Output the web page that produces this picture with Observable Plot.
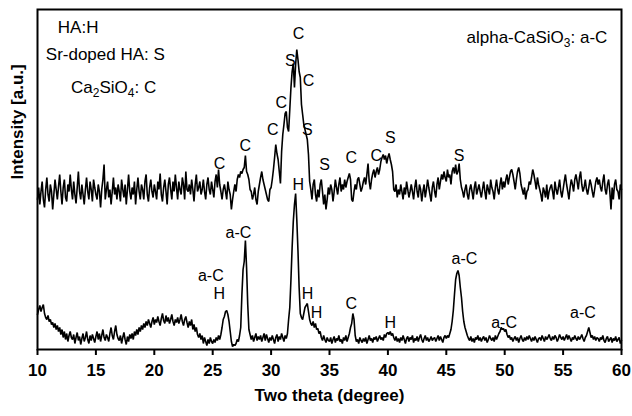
<!DOCTYPE html>
<html>
<head>
<meta charset="utf-8">
<script src="https://cdn.jsdelivr.net/npm/d3@7"></script>
<script src="https://cdn.jsdelivr.net/npm/@observablehq/plot@0.6"></script>
<style>
  html, body { margin: 0; padding: 0; background: #fff; }
  #chart svg { display: block; }
</style>
</head>
<body>
<div id="chart"></div>
<script>
// Scan grid: 10° to 60° two-theta, 0.1° step
const twoThetaStart = 10;
const twoThetaStep = 0.1;

// Upper pattern (Sr-doped HA + Ca2SiO4), intensity in a.u.
const intensityUpper = [
  150,162,145,158,168,150,142,160,172,155,
  148,165,158,140,155,170,160,150,163,175,
  158,145,162,170,152,148,165,158,175,160,
  150,168,155,146,162,178,158,150,165,155,
  145,160,172,158,150,168,160,148,170,162,
  155,150,165,158,142,160,170,185,150,160,
  168,152,160,145,158,172,155,162,150,165,
  158,148,170,160,152,165,145,160,175,158,
  150,162,155,168,145,160,172,158,150,165,
  160,150,168,175,155,148,162,170,158,152,
  165,158,150,168,160,176,155,148,162,170,
  158,145,165,172,160,150,168,158,175,162,
  150,168,160,155,172,165,150,178,160,158,
  165,155,170,160,148,165,175,158,162,168,
  155,160,170,158,150,165,172,160,155,168,
  160,152,168,175,162,180,165,158,150,160,
  165,158,150,168,160,155,140,150,158,165,
  158,170,175,172,178,176,180,182,194,178,
  175,170,160,158,150,155,162,150,145,158,
  165,172,178,170,165,160,155,150,148,160,
  162,170,180,192,205,196,190,178,166,198,
  215,225,236,238,222,218,240,262,278,286,
  262,285,300,290,278,272,245,235,225,220,
  215,210,195,168,160,150,165,170,155,148,
  160,152,165,170,158,145,155,140,150,162,
  155,165,160,148,158,170,162,155,165,172,
  158,165,160,170,162,168,172,176,170,150,
  148,158,165,160,170,172,165,158,162,168,
  172,165,175,186,168,160,170,176,180,172,
  178,182,175,180,188,192,195,190,194,186,
  192,196,190,185,178,160,158,165,152,160,
  155,165,158,150,162,155,168,160,152,158,
  165,158,150,162,170,158,152,165,160,148,
  158,165,152,160,170,162,155,148,162,168,
  158,152,165,172,160,168,175,170,178,172,
  168,180,172,175,165,178,182,176,185,175,
  178,186,170,162,158,152,160,165,155,150,
  160,165,158,150,162,168,155,160,165,158,
  152,160,168,158,150,165,160,155,170,162,
  158,150,162,170,160,155,165,172,160,168,
  162,170,175,165,172,178,180,175,168,160,
  170,178,182,176,165,160,155,162,150,158,
  160,168,165,172,180,175,168,160,172,165,
  160,155,148,162,158,152,165,150,158,162,
  165,158,150,168,160,155,162,170,158,152,
  160,168,175,165,158,150,162,170,165,158,
  170,175,168,160,172,178,165,158,162,170,
  160,155,162,170,165,158,152,160,168,172,
  165,170,162,158,168,175,160,155,165,170,
  158,140,162,150,165,170,160,158,150,165,
  160
];

// Lower pattern (HA + alpha-CaSiO3), intensity in a.u.
const intensityLower = [
  35,40,44,38,42,45,36,32,30,34,
  28,30,25,27,22,26,20,24,18,22,
  15,20,12,18,10,16,8,14,18,12,
  10,15,6,12,17,9,13,5,11,16,
  8,12,18,10,6,14,9,15,11,7,
  13,18,10,16,8,14,20,12,9,15,
  12,8,16,22,14,10,18,24,15,11,
  9,14,6,12,17,10,5,13,8,15,
  11,16,10,18,14,20,15,22,18,24,
  20,26,22,28,24,30,26,22,28,32,
  25,30,27,33,28,24,31,36,29,26,
  34,28,32,26,30,35,28,24,30,27,
  32,26,30,35,28,24,30,33,27,22,
  28,24,30,20,25,18,22,15,12,16,
  10,14,6,12,8,4,10,6,12,8,
  6,10,7,12,9,14,10,15,22,30,
  33,38,39,35,28,18,8,3,5,4,
  6,10,8,14,22,55,80,88,109,82,
  45,20,15,10,14,8,12,16,9,13,
  10,14,8,12,16,9,15,11,7,12,
  9,14,10,6,12,15,8,13,10,16,
  12,8,14,11,16,30,42,70,102,128,
  145,156,130,99,62,36,32,30,36,42,
  44,46,38,30,26,24,28,22,26,20,
  21,16,18,12,9,14,10,7,12,9,
  8,12,6,10,13,7,11,9,14,8,
  10,6,12,9,14,8,12,16,22,26,
  36,30,14,8,10,6,12,9,7,11,
  8,12,6,10,14,9,11,7,12,10,
  13,8,11,14,10,12,9,15,12,16,
  17,15,18,14,16,12,9,13,8,11,
  7,12,9,14,10,6,11,13,8,12,
  10,14,7,11,9,13,8,12,15,10,
  7,11,14,9,12,8,10,13,9,11,
  12,8,11,14,9,13,10,7,12,14,
  11,14,12,16,20,28,39,55,70,76,
  79,74,62,52,38,28,22,18,14,11,
  9,13,8,11,7,12,10,14,9,12,
  8,11,13,9,12,7,10,14,11,9,
  12,8,14,10,13,16,18,22,20,21,
  18,20,15,12,14,10,12,8,11,13,
  9,12,7,11,14,10,8,12,9,13,
  10,14,11,8,12,9,13,10,7,11,
  12,9,14,11,8,13,10,12,15,11,
  9,13,10,14,12,8,11,15,12,10,
  13,9,12,15,10,14,11,8,12,10,
  14,11,9,13,10,12,15,11,8,12,
  14,18,22,17,12,14,10,13,9,12,
  11,8,12,10,14,9,7,11,13,8,
  10,12,7,11,9,13,8,10,12,6,
  9
];

// Phase assignments above the peaks
const peakLabelText      = ["C", "C", "C", "C", "S", "C", "C", "S", "S", "C", "C", "S", "S",
                            "a-C", "H", "a-C", "H", "H", "H", "C", "H", "a-C", "a-C", "a-C"];
const peakLabelTheta     = [25.58, 27.78, 30.15, 30.87, 31.64, 32.35, 33.2, 33.1, 34.58, 36.86, 39.0, 40.2, 46.1,
                            24.84, 25.56, 27.2, 32.32, 33.12, 33.9, 36.86, 40.2, 46.55, 49.95, 56.7];
const peakLabelIntensity = [186, 204, 220, 247, 289, 316, 269, 220, 185, 192, 194, 212, 194,
                            74, 56, 117, 165, 56, 37, 46, 27, 91, 27, 37];

// Phase key
const phaseKeyText      = ["HA:H", "Sr-doped HA: S", "Ca2SiO4: C", "alpha-CaSiO3: a-C"];
const phaseKeyTheta     = [11.74, 10.71, 12.87, 58.79];
const phaseKeyIntensity = [322, 295, 262, 312];
const phaseKeyAnchor    = ["start", "start", "start", "end"];

const twoThetaTicks = [10, 15, 20, 25, 30, 35, 40, 45, 50, 55, 60];
const xTitle = "Two theta (degree)";
const yTitle = "Intensity [a.u.]";

const toRows = (values) => values.map((v, i) => ({
  theta: Math.round((twoThetaStart + i * twoThetaStep) * 10) / 10,
  intensity: v
}));
const upperRows = toRows(intensityUpper);
const lowerRows = toRows(intensityLower);
const peakLabels = peakLabelText.map((t, i) => ({t, x: peakLabelTheta[i], y: peakLabelIntensity[i]}));
const phaseKeys = phaseKeyText.map((t, i) => ({t, x: phaseKeyTheta[i], y: phaseKeyIntensity[i], a: phaseKeyAnchor[i]}));

const font = "'Liberation Sans', Arial, Helvetica, sans-serif";

const chart = Plot.plot({
  width: 632,
  height: 416,
  marginLeft: 37,
  marginRight: 11,
  marginTop: 9,
  marginBottom: 67,
  style: {fontFamily: font, background: "#fff", color: "#000", overflow: "visible"},
  x: {domain: [10, 60]},
  y: {domain: [0, 340], axis: null},
  marks: [
    Plot.line(upperRows, {x: "theta", y: "intensity", stroke: "#000", strokeWidth: 1.6, strokeLinejoin: "miter"}),
    Plot.line(lowerRows, {x: "theta", y: "intensity", stroke: "#000", strokeWidth: 1.6, strokeLinejoin: "miter"}),
    Plot.frame({stroke: "#000", strokeWidth: 2}),
    Plot.axisX({
      ticks: twoThetaTicks, tickSize: 6, tickPadding: 8, strokeWidth: 2,
      fontSize: 17, fontWeight: "bold", label: null, tickFormat: d => String(d)
    }),
    Plot.text([xTitle], {frameAnchor: "bottom", dy: 51, fontSize: 17, fontWeight: "bold"}),
    Plot.text([yTitle], {frameAnchor: "left", rotate: -90, dx: -20, fontSize: 17, fontWeight: "bold"}),
    Plot.text(peakLabels, {x: "x", y: "y", text: "t", fontSize: 16}),
    Plot.text(phaseKeys.filter(d => d.a === "start"), {x: "x", y: "y", text: "t", textAnchor: "start", fontSize: 17}),
    Plot.text(phaseKeys.filter(d => d.a === "end"), {x: "x", y: "y", text: "t", textAnchor: "end", fontSize: 17})
  ]
});

// Chemical formulas: set the stoichiometric digits as subscripts
d3.select(chart).selectAll("text").each(function () {
  const s = this.textContent;
  if (!/[A-Za-z]\d/.test(s)) return;
  const el = d3.select(this);
  el.text(null);
  let lowered = false;
  for (const p of s.split(/(\d+)/).filter(p => p !== "")) {
    const span = el.append("tspan").text(p);
    if (/^\d+$/.test(p)) { span.attr("font-size", "12px").attr("dy", 4); lowered = true; }
    else if (lowered) { span.attr("dy", -4); lowered = false; }
  }
});

document.getElementById("chart").appendChild(chart);
</script>
</body>
</html>
